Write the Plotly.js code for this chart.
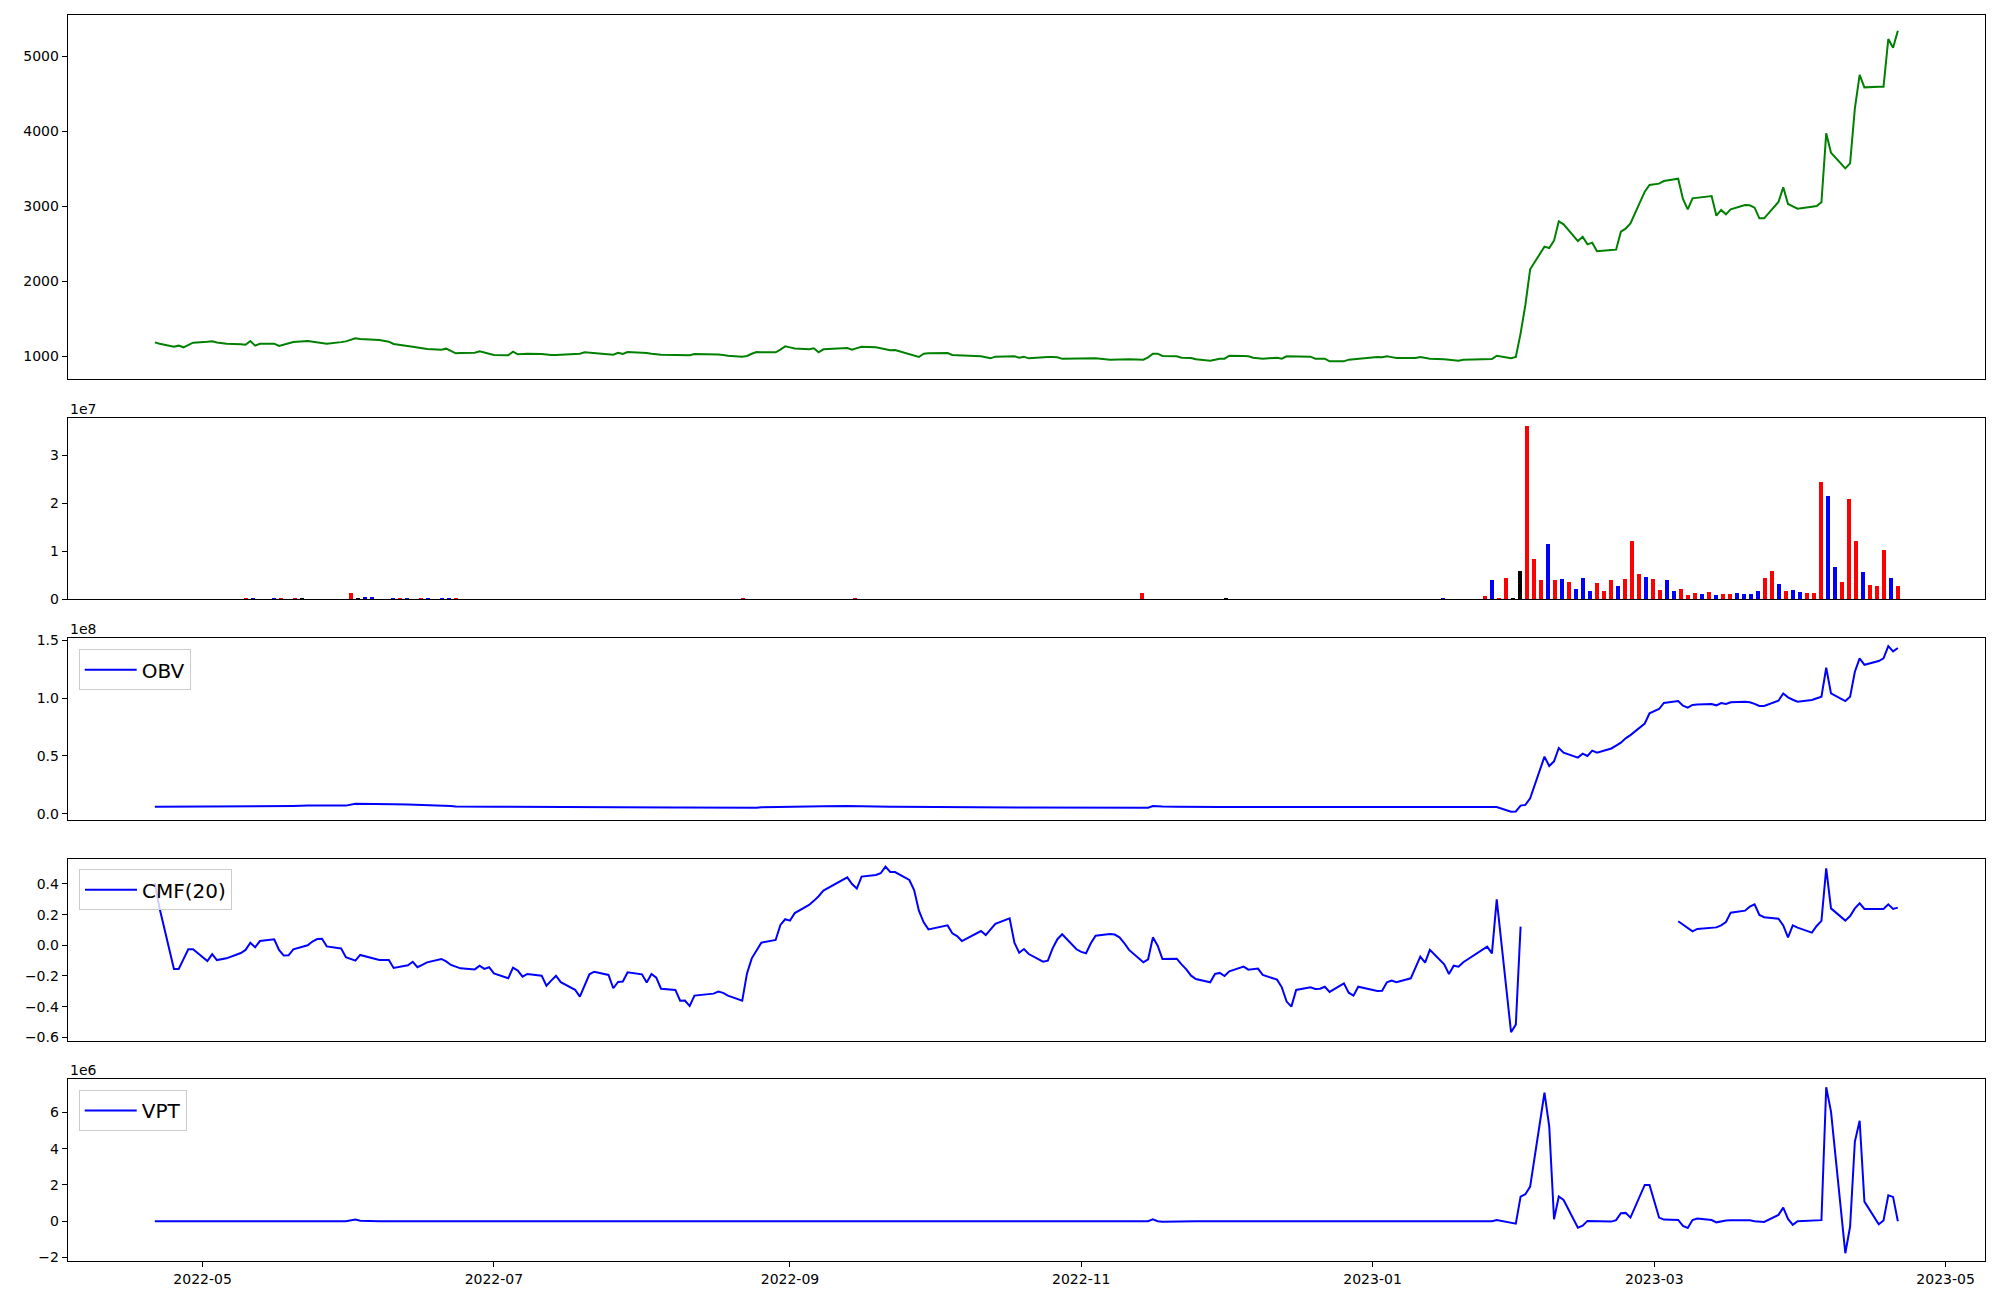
<!DOCTYPE html>
<html>
<head>
<meta charset="utf-8">
<script src="https://cdn.plot.ly/plotly-3.0.1.min.js"></script>
<style>html,body{margin:0;padding:0;background:#fff}#chart{width:2000px;height:1300px}</style>
</head>
<body>
<div id="chart"></div>
<script>
// ---------------- data ----------------
const startDay = '2022-04-21';
const endDay = '2023-04-21';
const marketHolidays = ['2022-05-05','2022-06-01','2022-06-06','2022-08-15','2022-09-09','2022-09-12',
  '2022-10-03','2022-10-10','2022-12-30','2023-01-23','2023-01-24','2023-03-01'];

const closePrice = [
  1182,1163,1124,1138,1116,1150,1178,1190,1196,1180,
  1164,1157,1151,1200,1138,1164,1164,1133,1150,1168,
  1187,1200,1190,1178,1171,1164,1185,1195,1236,1228,
  1213,1205,1191,1160,1140,1124,1114,1103,1093,1084,
  1098,1067,1036,1040,1044,1062,1045,1028,1013,1009,
  1058,1022,1026,1031,1025,1018,1013,1014,1016,1018,
  1030,1049,1044,1038,1025,1018,1044,1027,1053,1048,
  1040,1030,1020,1016,1013,1011,1009,1009,1027,1027,
  1020,1012,1004,991,1000,1030,1053,1051,1049,1085,
  1129,1115,1100,1089,1102,1049,1089,1107,1084,1105,
  1124,1116,1100,1085,1076,1080,1030,1008,987,1031,
  1035,1040,1013,1011,1009,996,982,969,991,994,
  996,978,991,969,987,988,985,982,962,963,
  966,969,969,969,951,955,958,960,957,951,
  982,1031,1031,1000,996,978,975,973,956,938,
  950,964,964,1004,1000,996,978,971,964,978,
  964,996,994,993,991,964,964,964,929,929,
  951,958,964,987,982,996,985,973,973,973,
  987,975,964,955,947,942,938,951,955,960,
  1004,969,987,1302,1680,2156,2458,2440,2538,2796,
  2756,2533,2591,2489,2511,2396,2413,2418,2658,2698,
  2769,3191,3280,3298,3333,3364,3093,2956,3102,3110,
  3133,2871,2947,2889,2956,3013,3010,2978,2836,2836,
  3053,3249,3027,2995,2964,2991,3000,3049,3969,3711,
  3502,3569,4302,4747,4582,4589,4591,5227,5111,5338
];

const volume = [
  0,0,0,0,0,0,0,0,0,0,
  0,0,0,200000,200000,0,0,200000,200000,0,
  200000,200000,0,0,0,0,0,0,1250000,200000,
  400000,400000,0,0,200000,200000,200000,0,200000,200000,
  0,200000,200000,200000,0,0,0,0,0,0,
  0,0,0,0,0,0,0,0,0,0,
  0,0,0,0,0,0,0,0,0,0,
  0,0,0,0,0,0,0,0,0,0,
  0,0,0,0,200000,0,0,0,0,0,
  0,0,0,0,0,0,0,0,0,0,
  200000,0,0,0,0,0,0,0,0,0,
  0,0,0,0,0,0,0,0,0,0,
  0,0,0,0,0,0,0,0,0,0,
  0,0,0,0,0,0,0,0,0,0,
  0,1200000,0,0,0,0,0,0,0,0,
  0,0,0,150000,0,0,0,0,0,0,
  0,0,0,0,0,0,0,0,0,0,
  0,0,0,0,0,0,0,0,0,0,
  0,0,0,0,200000,0,0,0,0,0,
  620000,3960000,200000,4400000,200000,5800000,36000000,8300000,3960000,11500000,
  3960000,4170000,3540000,2080000,4380000,1670000,3330000,1670000,3960000,2710000,
  4170000,12100000,5200000,4580000,4170000,1875000,3960000,1670000,2080000,830000,
  1250000,1040000,1460000,830000,1040000,1040000,1250000,1040000,1040000,1670000,
  4380000,5830000,3125000,1670000,1875000,1460000,1250000,1250000,24400000,21500000,
  6670000,3540000,20800000,12100000,5600000,2900000,2700000,10200000,4400000,2700000
];

// 1 = up day, -1 = down day, 0 = unchanged
const volumeDirection = [
  0,0,0,0,0,0,0,0,0,0,
  0,0,0,1,-1,0,0,-1,1,0,
  1,0,0,0,0,0,0,0,1,0,
  -1,-1,0,0,-1,1,-1,0,1,-1,
  0,-1,-1,1,0,0,0,0,0,0,
  0,0,0,0,0,0,0,0,0,0,
  0,0,0,0,0,0,0,0,0,0,
  0,0,0,0,0,0,0,0,0,0,
  0,0,0,0,1,0,0,0,0,0,
  0,0,0,0,0,0,0,0,0,0,
  1,0,0,0,0,0,0,0,0,0,
  0,0,0,0,0,0,0,0,0,0,
  0,0,0,0,0,0,0,0,0,0,
  0,0,0,0,0,0,0,0,0,0,
  0,1,0,0,0,0,0,0,0,0,
  0,0,0,0,0,0,0,0,0,0,
  0,0,0,0,0,0,0,0,0,0,
  0,0,0,0,0,0,0,0,0,0,
  0,0,0,0,-1,0,0,0,0,0,
  1,-1,1,1,0,0,1,1,1,-1,
  1,-1,1,-1,-1,-1,1,1,1,-1,
  1,1,1,-1,1,1,-1,-1,1,1,
  1,-1,1,-1,1,1,-1,-1,-1,-1,
  1,1,-1,1,-1,-1,1,1,1,-1,
  -1,1,1,1,-1,1,1,1,-1,1
];

const obv = [
  6300000,6300000,6300000,6300000,6300000,6300000,6300000,6300000,6300000,6300000,
  6300000,6300000,6300000,6500000,6300000,6300000,6500000,6300000,6500000,6500000,
  6900000,7200000,7200000,7200000,7200000,7200000,7200000,7200000,8900000,8900000,
  8600000,8400000,8400000,8400000,8100000,8000000,7700000,7700000,7500000,7200000,
  7200000,6800000,6500000,6400000,6300000,6300000,6300000,6300000,6300000,6200000,
  6200000,6200000,6200000,6200000,6200000,6200000,6100000,6100000,6100000,6000000,
  6000000,6000000,6000000,5900000,5900000,5900000,5900000,5800000,5800000,5800000,
  5800000,5800000,5800000,5600000,5600000,5500000,5500000,5500000,5400000,5400000,
  5300000,5300000,5300000,4900000,4900000,5200000,5400000,5700000,6000000,6200000,
  6300000,6400000,6500000,6500000,6600000,6600000,6700000,6900000,6900000,6900000,
  6700000,6600000,6500000,6400000,6300000,6200000,6100000,5750000,5750000,5600000,
  5600000,5600000,5600000,5600000,5600000,5600000,5600000,5600000,5600000,5550000,
  5550000,5550000,5550000,5550000,5550000,5550000,5550000,5550000,5550000,5500000,
  5500000,5500000,5500000,5500000,5500000,5500000,5500000,5500000,5500000,5460000,
  5460000,6900000,6600000,6400000,6300000,6200000,6100000,6100000,6000000,6000000,
  6000000,6000000,6000000,6000000,6000000,6000000,6000000,6000000,6000000,6000000,
  6000000,6000000,6000000,6000000,6000000,6000000,6000000,6000000,6000000,6000000,
  6000000,6000000,6000000,6000000,6000000,6000000,6000000,6000000,6000000,6000000,
  6000000,6000000,6000000,6000000,6000000,6000000,6000000,6000000,6000000,6000000,
  6000000,2000000,2200000,7200000,7800000,13500000,49400000,41400000,45400000,56900000,
  52900000,48600000,52000000,50000000,54600000,52900000,56500000,59000000,61500000,65200000,
  68000000,78000000,86800000,90500000,95700000,97400000,93400000,91700000,94000000,94400000,
  94800000,93700000,95700000,94800000,96300000,96800000,96300000,95000000,93100000,93100000,
  97700000,104000000,100600000,98500000,96800000,98300000,99500000,101100000,126100000,104000000,
  97400000,101100000,122700000,134200000,128700000,131900000,134200000,144800000,140200000,143100000
];

const cmf20 = [
  0.404,0.24,-0.154,-0.154,-0.09,-0.026,-0.026,-0.102,-0.057,-0.096,
  -0.085,-0.05,-0.03,0.017,-0.013,0.028,0.039,-0.03,-0.067,-0.065,
  -0.026,0,0.025,0.041,0.043,-0.007,-0.02,-0.078,-0.1,-0.063,
  -0.096,-0.096,-0.096,-0.148,-0.13,-0.107,-0.143,-0.127,-0.111,-0.089,
  -0.105,-0.128,-0.14,-0.15,-0.157,-0.133,-0.154,-0.143,-0.183,-0.215,
  -0.146,-0.165,-0.204,-0.187,-0.198,-0.263,-0.23,-0.198,-0.24,-0.29,
  -0.335,-0.26,-0.189,-0.172,-0.193,-0.28,-0.239,-0.236,-0.176,-0.189,
  -0.243,-0.187,-0.211,-0.283,-0.291,-0.361,-0.36,-0.396,-0.328,-0.315,
  -0.302,-0.31,-0.328,-0.361,-0.183,-0.085,-0.03,0.017,0.035,0.133,
  0.17,0.161,0.21,0.263,0.29,0.32,0.357,0.443,0.4,0.37,
  0.448,0.459,0.47,0.513,0.478,0.478,0.426,0.361,0.226,0.15,
  0.104,0.13,0.078,0.06,0.028,0.093,0.067,0.107,0.14,0.176,
  0.017,-0.048,-0.024,-0.057,-0.107,-0.1,-0.02,0.04,0.072,-0.026,
  -0.043,-0.052,0.013,0.063,0.074,0.07,0.052,0.015,-0.03,-0.111,
  -0.091,0.052,-0.002,-0.089,-0.087,-0.124,-0.157,-0.198,-0.22,-0.241,
  -0.187,-0.18,-0.2,-0.17,-0.139,-0.159,-0.155,-0.152,-0.193,-0.224,
  -0.274,-0.367,-0.4,-0.291,-0.274,-0.285,-0.283,-0.27,-0.304,-0.248,
  -0.309,-0.328,-0.27,-0.298,-0.296,-0.241,-0.23,-0.241,-0.215,-0.139,
  -0.074,-0.113,-0.03,-0.124,-0.187,-0.133,-0.139,-0.11,-0.009,-0.052,
  0.3,-0.567,-0.517,0.122,null,null,null,null,null,null,
  null,null,null,null,null,null,null,null,null,null,
  null,null,null,null,null,0.157,0.135,0.11,0.091,0.107,
  0.112,0.117,0.13,0.152,0.213,0.226,0.252,0.267,0.198,0.183,
  0.174,0.13,0.052,0.13,0.115,0.083,0.126,0.159,0.502,0.241,
  0.161,0.191,0.241,0.274,0.237,0.237,0.237,0.267,0.237,0.246
];

const vpt = [
  0,0,0,0,0,0,0,0,0,0,
  0,0,0,20000,-20000,0,0,0,0,0,
  0,0,0,0,0,0,0,0,100000,30000,
  0,0,0,0,0,0,0,0,0,0,
  0,0,0,0,0,0,0,0,0,0,
  0,0,0,0,0,0,0,0,0,0,
  0,0,0,0,0,0,0,0,0,0,
  0,0,0,0,0,0,0,0,0,0,
  0,0,0,0,0,0,30000,0,0,0,
  0,0,0,0,0,0,0,0,0,0,
  0,0,0,0,0,0,0,0,0,0,
  0,0,0,0,0,0,0,0,0,0,
  0,0,0,0,0,0,0,0,0,0,
  0,0,0,0,0,0,0,0,0,0,
  0,100000,0,-30000,0,0,0,0,0,0,
  0,0,0,40000,0,0,0,0,0,0,
  0,0,0,0,0,0,0,0,0,0,
  0,0,0,0,0,0,0,0,0,0,
  0,0,0,0,0,0,0,0,0,0,
  70000,-50000,-130000,1360000,1490000,1910000,7080000,5210000,110000,1360000,
  1170000,-350000,-240000,20000,10000,0,-20000,60000,440000,460000,
  200000,2000000,2000000,200000,90000,70000,-260000,-370000,70000,150000,
  70000,-60000,0,40000,50000,70000,50000,0,-40000,-40000,
  350000,750000,130000,-200000,0,30000,40000,60000,7380000,6040000,
  -1760000,-290000,4390000,5540000,1080000,-170000,40000,1430000,1340000,0
];

const monthTicks = ['2022-05-01','2022-07-01','2022-09-01','2022-11-01','2023-01-01','2023-03-01','2023-05-01'];
const monthTickText = ['2022-05','2022-07','2022-09','2022-11','2023-01','2023-03','2023-05'];

// ---------------- dates ----------------
function tradingDays(){
  const hol = new Set(marketHolidays);
  const out = [];
  let t = Date.parse(startDay + 'T00:00:00Z');
  const end = Date.parse(endDay + 'T00:00:00Z');
  while (t <= end) {
    const d = new Date(t);
    const wd = d.getUTCDay();
    const s = d.toISOString().slice(0, 10);
    if (wd !== 0 && wd !== 6 && !hol.has(s)) out.push(s);
    t += 86400000;
  }
  return out;
}
const lineDates = tradingDays();
const t0 = Date.parse(startDay + 'T00:00:00Z');
const t1 = Date.parse(endDay + 'T00:00:00Z');
const barDates = volume.map((v, i) => t0 + i * (t1 - t0) / (volume.length - 1));

// ---------------- plot ----------------
const FONT = 'DejaVu Sans, sans-serif';
const xDomain = [0.03385, 0.9925];
const xRange = ['2022-04-02 18:00', '2023-05-09 06:00'];
const MINUS = '\u2212';

function xAxis(anchor, showLabels) {
  return {
    type: 'date', domain: xDomain, range: xRange, anchor: anchor,
    showline: true, mirror: true, linecolor: '#000', linewidth: 1,
    showgrid: false, zeroline: false, automargin: false,
    tickmode: 'array', tickvals: monthTicks, ticktext: monthTickText,
    ticks: showLabels ? 'outside' : '', ticklen: 5, tickwidth: 1, tickcolor: '#000',
    showticklabels: showLabels, tickfont: {family: FONT, size: 14, color: '#000'}
  };
}
function yAxis(anchor, domain, range, tickvals, ticktext) {
  return {
    domain: domain, range: range, anchor: anchor,
    showline: true, mirror: true, linecolor: '#000', linewidth: 1,
    showgrid: false, zeroline: false, automargin: false,
    tickmode: 'array', tickvals: tickvals, ticktext: ticktext,
    ticks: 'outside', ticklen: 5, tickwidth: 1, tickcolor: '#000',
    tickfont: {family: FONT, size: 14, color: '#000'}
  };
}

const traces = [
  {type: 'scatter', mode: 'lines', x: lineDates, y: closePrice, name: 'Close',
   line: {color: 'green', width: 2}, xaxis: 'x', yaxis: 'y', showlegend: false},
  {type: 'bar', x: barDates, y: volume, name: 'Volume', width: 0.8 * 86400000,
   marker: {color: volumeDirection.map(d => d > 0 ? 'red' : (d < 0 ? 'blue' : 'black')), line: {width: 0}},
   xaxis: 'x2', yaxis: 'y2', showlegend: false},
  {type: 'scatter', mode: 'lines', x: lineDates, y: obv, name: 'OBV',
   line: {color: 'blue', width: 2}, xaxis: 'x3', yaxis: 'y3', legend: 'legend'},
  {type: 'scatter', mode: 'lines', x: lineDates, y: cmf20, name: 'CMF(20)',
   line: {color: 'blue', width: 2}, xaxis: 'x4', yaxis: 'y4', legend: 'legend2', connectgaps: false},
  {type: 'scatter', mode: 'lines', x: lineDates, y: vpt, name: 'VPT',
   line: {color: 'blue', width: 2}, xaxis: 'x5', yaxis: 'y5', legend: 'legend3'}
];

const d1 = [0.70846, 0.98823], d2 = [0.53923, 0.67823], d3 = [0.36923, 0.50900],
      d4 = [0.19923, 0.33900], d5 = [0.03, 0.16977];

function legendBox(x, y) {
  return {x: x, y: y, xanchor: 'left', yanchor: 'top', bgcolor: 'rgba(255,255,255,0.8)',
          bordercolor: '#cccccc', borderwidth: 1, font: {family: FONT, size: 20, color: '#000'},
          itemwidth: 52, tracegroupgap: 0};
}
function offsetText(txt, top) {
  return {text: txt, xref: 'paper', yref: 'paper', x: xDomain[0], y: top - 1 / 1300,
          xanchor: 'left', yanchor: 'bottom', showarrow: false,
          font: {family: FONT, size: 14, color: '#000'}};
}

const layout = {
  width: 2000, height: 1300, margin: {l: 0, r: 0, t: 0, b: 0},
  paper_bgcolor: '#fff', plot_bgcolor: '#fff', showlegend: true,
  font: {family: FONT, size: 14, color: '#000'},
  xaxis: xAxis('y', false), xaxis2: xAxis('y2', false), xaxis3: xAxis('y3', false),
  xaxis4: xAxis('y4', false), xaxis5: xAxis('y5', true),
  yaxis: yAxis('x', d1, [693.3, 5542.7], [1000, 2000, 3000, 4000, 5000], ['1000', '2000', '3000', '4000', '5000']),
  yaxis2: yAxis('x2', d2, [0, 3.765e7], [0, 1e7, 2e7, 3e7], ['0', '1', '2', '3']),
  yaxis3: yAxis('x3', d3, [-5.2e6, 1.515e8], [0, 5e7, 1e8, 1.5e8], ['0.0', '0.5', '1.0', '1.5']),
  yaxis4: yAxis('x4', d4, [-0.624, 0.561], [-0.6, -0.4, -0.2, 0, 0.2, 0.4],
                [MINUS + '0.6', MINUS + '0.4', MINUS + '0.2', '0.0', '0.2', '0.4']),
  yaxis5: yAxis('x5', d5, [-2.19e6, 7.82e6], [-2e6, 0, 2e6, 4e6, 6e6], [MINUS + '2', '0', '2', '4', '6']),
  legend: legendBox(0.03935, 0.50054),
  legend2: legendBox(0.0395, 0.33131),
  legend3: legendBox(0.03935, 0.16154),
  annotations: [offsetText('1e7', d2[1]), offsetText('1e8', d3[1]), offsetText('1e6', d5[1])],
  bargap: 0
};

Plotly.newPlot('chart', traces, layout, {displayModeBar: false, staticPlot: true});
</script>
</body>
</html>
